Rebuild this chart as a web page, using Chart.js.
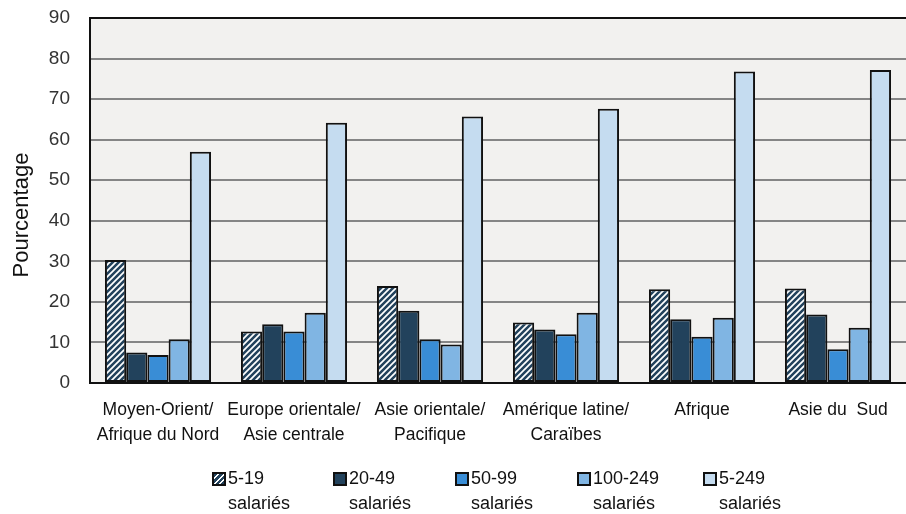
<!DOCTYPE html>
<html>
<head>
<meta charset="utf-8">
<script src="https://cdn.jsdelivr.net/npm/chart.js@4"></script>
<style>
    body { margin: 0; background: #fff; }
    #wrap { position: relative; width: 906px; height: 514px; }
    #legend { position: absolute; left: 0; top: 0; width: 906px; height: 514px; pointer-events: none;
        font-family: "Liberation Sans", Arial, sans-serif; font-size: 18px; color: #111; }
    .item { position: absolute; top: 466px; }
    .box { position: absolute; left: 0; top: 6px; width: 10px; height: 10px; border: 2px solid #111; }
    .txt { position: absolute; left: 16px; top: 0; line-height: 25px; white-space: nowrap; }
</style>
</head>
<body>
<div id="wrap">
    <canvas id="barChart" width="906" height="514"></canvas>
    <div id="legend"></div>
</div>
<script>
var categories = [
    ["Moyen-Orient/", "Afrique du Nord"],
    ["Europe orientale/", "Asie centrale"],
    ["Asie orientale/", "Pacifique"],
    ["Amérique latine/", "Caraïbes"],
    "Afrique",
    "Asie du  Sud"
];
var seriesNames = ["5-19", "20-49", "50-99", "100-249", "5-249"];
var s519 = [30.3, 12.7, 23.9, 14.9, 23.1, 23.3];
var s2049 = [7.5, 14.5, 17.8, 13.2, 15.7, 16.9];
var s5099 = [6.9, 12.7, 10.8, 12.0, 11.4, 8.3];
var s100249 = [10.8, 17.3, 9.5, 17.3, 16.1, 13.6];
var s5249 = [57.0, 64.2, 65.7, 67.6, 76.8, 77.2];
var yTicks = [0, 10, 20, 30, 40, 50, 60, 70, 80, 90];
var yTitle = "Pourcentage";

var navy = "#22425c";

// navy / white diagonal hatch for the 5-19 series
function makeHatch() {
    var c = document.createElement("canvas");
    c.width = 6;
    c.height = 6;
    var g = c.getContext("2d");
    g.fillStyle = navy;
    g.fillRect(0, 0, 6, 6);
    g.strokeStyle = "#ffffff";
    g.lineWidth = 1.7;
    g.beginPath();
    g.moveTo(-1, 7); g.lineTo(7, -1);
    g.moveTo(-4, 4); g.lineTo(4, -4);
    g.moveTo(2, 10); g.lineTo(10, 2);
    g.stroke();
    return g.createPattern(c, "repeat");
}

var hatch = makeHatch();
var colors = [hatch, navy, "#398dd6", "#80b5e3", "#c5dcf0"];
var legendBoxes = ["hatch", navy, "#398dd6", "#80b5e3", "#c5dcf0"];
var legendX = [212, 333, 455, 577, 703];
var allData = [s519, s2049, s5099, s100249, s5249];

var datasets = [];
for (var i = 0; i < allData.length; i++) {
    datasets.push({
        label: seriesNames[i] + " salariés",
        data: allData[i],
        backgroundColor: colors[i],
        borderColor: "#111",
        borderWidth: 2,
        borderSkipped: false,
        categoryPercentage: 0.78,
        barPercentage: 1.0
    });
}

var plotBg = {
    id: "plotBg",
    beforeDraw: function (chart) {
        var a = chart.chartArea;
        var ctx = chart.ctx;
        ctx.save();
        ctx.fillStyle = "#f2f1ef";
        ctx.fillRect(a.left, a.top, a.right - a.left, a.bottom - a.top);
        ctx.restore();
    },
    // y title sits a bit below the middle of the axis in the original
    afterDraw: function (chart) {
        var ctx = chart.ctx;
        ctx.save();
        ctx.translate(22, 215);
        ctx.rotate(-Math.PI / 2);
        ctx.fillStyle = "#111";
        ctx.font = "22px 'Liberation Sans'";
        ctx.textAlign = "center";
        ctx.textBaseline = "middle";
        ctx.fillText(yTitle, 0, 0);
        ctx.restore();
    }
};

var ctx = document.getElementById("barChart").getContext("2d");
var myChart = new Chart(ctx, {
    type: "bar",
    data: {
        labels: categories,
        datasets: datasets
    },
    plugins: [plotBg],
    options: {
        responsive: false,
        animation: false,
        layout: { padding: { top: 18, right: 0, left: 0, bottom: 0 } },
        plugins: {
            legend: { display: false },
            tooltip: { enabled: false }
        },
        scales: {
            x: {
                grid: { display: false, drawTicks: false },
                border: { display: true, color: "#111", width: 2 },
                ticks: {
                    color: "#111",
                    padding: 15,
                    font: { family: "Liberation Sans", size: 17.5, lineHeight: 1.43 },
                    maxRotation: 0,
                    autoSkip: false
                },
                afterFit: function (scale) { scale.height = 131; }
            },
            y: {
                min: 0,
                max: 90,
                afterBuildTicks: function (scale) {
                    scale.ticks = yTicks.map(function (v) { return { value: v }; });
                },
                grid: {
                    drawTicks: false,
                    lineWidth: 2,
                    color: function (c) { return c.tick && c.tick.value === 90 ? "#111" : "#858585"; }
                },
                border: { display: true, color: "#111", width: 2 },
                ticks: {
                    color: "#333",
                    padding: 20,
                    font: { family: "Liberation Sans", size: 19 }
                },
                afterFit: function (scale) {
                    scale.width = 90;
                    // tick padding would otherwise push the plot top down
                    scale.paddingTop = 0;
                    scale.paddingBottom = 0;
                }
            }
        }
    }
});

// legend drawn as html below the plot
var legend = document.getElementById("legend");
for (var k = 0; k < seriesNames.length; k++) {
    var item = document.createElement("div");
    item.className = "item";
    item.style.left = legendX[k] + "px";
    var box = document.createElement("div");
    box.className = "box";
    if (legendBoxes[k] === "hatch") {
        box.style.background = "repeating-linear-gradient(135deg, " + navy + " 0 2.5px, #ffffff 2.5px 4px)";
    } else {
        box.style.background = legendBoxes[k];
    }
    var txt = document.createElement("div");
    txt.className = "txt";
    txt.innerHTML = seriesNames[k] + "<br>salariés";
    item.appendChild(box);
    item.appendChild(txt);
    legend.appendChild(item);
}
</script>
</body>
</html>
